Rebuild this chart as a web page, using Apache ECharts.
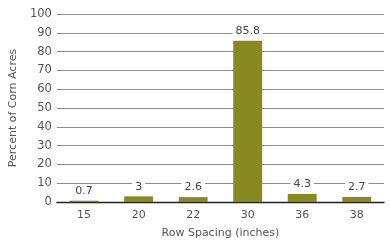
<!DOCTYPE html>
<html><head><meta charset="utf-8">
<script src="https://cdn.jsdelivr.net/npm/echarts@6/dist/echarts.min.js"></script>
<style>html,body{margin:0;padding:0;background:#fff}#c{width:390px;height:246px}</style>
</head><body><div id="c"></div>
<script>
const categories = ['15','20','22','30','36','38'];
const values = [0.7, 3, 2.6, 85.8, 4.3, 2.7];
const yTicks = [0,10,20,30,40,50,60,70,80,90,100];
const F = 'DejaVu Sans';
const chart = echarts.init(document.getElementById('c'));
chart.setOption({
  animation:false,
  grid:{left:52,right:6,top:14,bottom:44},
  xAxis:{type:'category',data:categories,
    name:'Row Spacing (inches)',nameLocation:'middle',nameGap:26,
    nameTextStyle:{fontFamily:F,fontSize:11,color:'#555'},
    axisTick:{show:false},
    axisLine:{lineStyle:{color:'#222',width:1.3}},
    axisLabel:{fontFamily:F,fontSize:11,color:'#555',margin:8}},
  yAxis:{type:'value',min:0,max:100,interval:10,
    name:'Percent of Corn Acres',nameLocation:'middle',nameGap:32,
    nameTextStyle:{fontFamily:F,fontSize:11,color:'#555'},
    axisLine:{show:false},axisTick:{show:false},
    axisLabel:{fontFamily:F,fontSize:11.5,color:'#555',margin:5},
    splitLine:{lineStyle:{color:'#8c8c8c',width:1}}},
  series:[{type:'bar',data:values,barWidth:'53%',
    itemStyle:{color:'#878a22'},
    label:{show:true,position:'top',distance:4,fontFamily:F,fontSize:11,color:'#444',
      backgroundColor:'#fff',padding:[0,3]}}]
});
</script></body></html>
